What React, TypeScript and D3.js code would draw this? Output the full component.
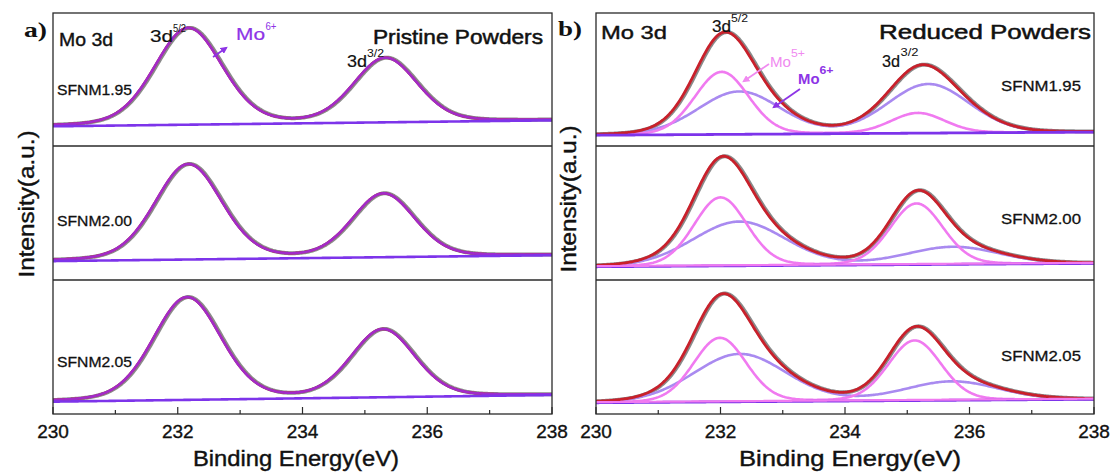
import React from "react";
import * as d3 from "d3";

// ---------- data ----------
const ENERGY_DOMAIN: [number, number] = [230, 238];
const MAJOR_TICKS = [230, 232, 234, 236, 238];
const MINOR_TICKS = [231, 233, 235, 237];
const SAMPLES = ["SFNM1.95", "SFNM2.00", "SFNM2.05"];

// linear background (fraction of sub-panel height) at 230 eV and 238 eV
const PRISTINE_BG = [
  [0.148, 0.193],
  [0.141, 0.185],
  [0.092, 0.142],
];
// fitted peaks: [centre eV, height, FWHM eV]
const PRISTINE_MO6 = [
  [[232.17, 0.725, 1.28], [235.33, 0.481, 1.2]],
  [[232.17, 0.71, 1.26], [235.3, 0.472, 1.18]],
  [[232.15, 0.764, 1.28], [235.29, 0.504, 1.2]],
];
const REDUCED_BG = [
  [0.081, 0.105],
  [0.099, 0.124],
  [0.084, 0.11],
];
const REDUCED_MO5 = [
  [[232.02, 0.47, 1.02], [235.17, 0.151, 1.02]],
  [[232.0, 0.51, 1.0], [235.15, 0.455, 1.0]],
  [[231.99, 0.477, 1.0], [235.12, 0.447, 1.0]],
];
const REDUCED_MO6 = [
  [[232.3, 0.32, 1.55], [235.34, 0.367, 1.55]],
  [[232.3, 0.329, 1.75], [235.74, 0.129, 1.75]],
  [[232.31, 0.356, 1.75], [235.72, 0.139, 1.75]],
];
const PRISTINE_ETA = 0.18; // Lorentzian fraction of the pseudo-Voigt fit
const REDUCED_ETA = 0.1;

// ---------- layout ----------
const PANEL_A: [number, number] = [53, 552];
const PANEL_B: [number, number] = [596, 1094];
const ROWS: [number, number][] = [
  [13, 146],
  [146, 280],
  [280, 414],
];
const FONT = "'Liberation Sans', Arial, sans-serif";
const SERIF = "'Liberation Serif', 'Times New Roman', serif";

const C = {
  frame: "#2a2a2a",
  raw: "#8a8a8a",
  red: "#c9202b",
  pristineComp: "#a22bc8",
  bgViolet: "#7d34ea",
  pink: "#f07af0",
  lilac: "#a98af0",
  mo6Label: "#8d34e6",
  mo5Label: "#f08af0",
};

type Peak = number[];
function pv(e: number, p: Peak, eta: number) {
  const [c, h, w] = p;
  const d = (e - c) / w;
  return h * ((1 - eta) * Math.exp(-4 * Math.LN2 * d * d) + eta / (1 + 4 * d * d));
}
const grid = d3.range(ENERGY_DOMAIN[0], ENERGY_DOMAIN[1] + 1e-9, 0.02);

function T(props: any) {
  const { x, y, size, len, weight, fill, anchor, family, children, transform, sw } = props;
  const col = fill || "#111";
  return (
    <text
      x={x}
      y={y}
      transform={transform}
      fontSize={size}
      fontFamily={family || FONT}
      fontWeight={weight || "normal"}
      fill={col}
      stroke={sw ? col : undefined}
      strokeWidth={sw || undefined}
      textAnchor={anchor || "start"}
      textLength={len}
      lengthAdjust={len ? "spacingAndGlyphs" : undefined}
    >
      {children}
    </text>
  );
}

function XAxis({ xs, y }: { xs: d3.ScaleLinear<number, number>; y: number }) {
  return (
    <g>
      {MAJOR_TICKS.map((t) => (
        <g key={"M" + t}>
          <line x1={xs(t)} x2={xs(t)} y1={y} y2={y - 7} stroke={C.frame} strokeWidth={1.2} />
          <T x={xs(t)} y={438} size={19} anchor="middle" sw={0.35}>
            {t}
          </T>
        </g>
      ))}
      {MINOR_TICKS.map((t) => (
        <line key={"m" + t} x1={xs(t)} x2={xs(t)} y1={y} y2={y - 4} stroke={C.frame} strokeWidth={1.2} />
      ))}
    </g>
  );
}

function SubPanel(props: {
  id: string;
  xs: d3.ScaleLinear<number, number>;
  row: [number, number];
  bg: number[];
  comps: { peaks: Peak[]; color: string; width: number }[];
  eta: number;
  reduced: boolean;
  idx: number;
}) {
  const { id, xs, row, bg, comps, eta, reduced, idx } = props;
  const ys = d3.scaleLinear().domain([0, 1]).range([row[1], row[0]]);
  const bgf = (e: number) => bg[0] + ((bg[1] - bg[0]) * (e - ENERGY_DOMAIN[0])) / (ENERGY_DOMAIN[1] - ENERGY_DOMAIN[0]);
  const compf = (peaks: Peak[]) => (e: number) => bgf(e) + d3.sum(peaks, (p) => pv(e, p, eta));
  const env = (e: number) => bgf(e) + d3.sum(comps, (c) => d3.sum(c.peaks, (p) => pv(e, p, eta)));
  const path = (f: (e: number) => number, shift = 0) =>
    d3
      .line<number>()
      .x((e) => xs(e + shift))
      .y((e) => ys(f(e)))(grid) || "";
  const [x0, x1] = xs.range();
  return (
    <g>
      <defs>
        <clipPath id={id}>
          <rect x={x0} y={row[0]} width={x1 - x0} height={row[1] - row[0]} />
        </clipPath>
      </defs>
      <g clipPath={`url(#${id})`} fill="none" strokeLinejoin="round" strokeLinecap="round">
        <path d={path(env, 0.02)} stroke={C.raw} strokeWidth={4} />
        {reduced ? (
          <>
            {comps.map((c, i) => (
              <path key={i} d={path(compf(c.peaks))} stroke={c.color} strokeWidth={c.width} />
            ))}
            <path d={path(env)} stroke={C.red} strokeWidth={2.8} />
            <path d={path(bgf)} stroke={C.bgViolet} strokeWidth={2.8} />
            {idx > 0 && <path d={path(bgf)} stroke={C.pink} strokeWidth={2.2} transform="translate(0,-0.6)" />}
          </>
        ) : (
          <>
            <path d={path(env)} stroke={C.red} strokeWidth={2.4} />
            {comps.map((c, i) => (
              <path key={i} d={path(compf(c.peaks))} stroke={c.color} strokeWidth={c.width} />
            ))}
            <path d={path(bgf)} stroke={C.bgViolet} strokeWidth={2.6} />
          </>
        )}
      </g>
    </g>
  );
}

function Frame({ xr }: { xr: [number, number] }) {
  return (
    <g fill="none" stroke={C.frame} strokeWidth={1.3}>
      <rect x={xr[0]} y={ROWS[0][0]} width={xr[1] - xr[0]} height={ROWS[2][1] - ROWS[0][0]} />
      <line x1={xr[0]} x2={xr[1]} y1={ROWS[1][0]} y2={ROWS[1][0]} />
      <line x1={xr[0]} x2={xr[1]} y1={ROWS[2][0]} y2={ROWS[2][0]} />
    </g>
  );
}

export default function App() {
  const xa = d3.scaleLinear().domain(ENERGY_DOMAIN).range(PANEL_A);
  const xb = d3.scaleLinear().domain(ENERGY_DOMAIN).range(PANEL_B);
  const leftLabelY = [95, 226, 367];
  const rightLabelY = [91, 224, 361];

  return (
    <svg
      width={1115}
      height={473}
      style={{ position: "absolute", left: 0, top: 0, background: "#fff", display: "block" }}
    >
      <defs>
        <marker id="ah-violet" viewBox="0 0 10 10" refX="7" refY="5" markerWidth="4" markerHeight="4" orient="auto">
          <path d="M0,0L10,5L0,10z" fill={C.mo6Label} />
        </marker>
        <marker id="ah-pink" viewBox="0 0 10 10" refX="7" refY="5" markerWidth="4" markerHeight="4" orient="auto">
          <path d="M0,0L10,5L0,10z" fill={C.mo5Label} />
        </marker>
      </defs>
      <rect x={0} y={0} width={1115} height={473} fill="#fff" />

      {/* ---------- panel a ---------- */}
      {ROWS.map((row, i) => (
        <SubPanel
          key={"a" + i}
          id={"clipA" + i}
          xs={xa}
          row={row}
          bg={PRISTINE_BG[i]}
          comps={[{ peaks: PRISTINE_MO6[i], color: C.pristineComp, width: 2.6 }]}
          eta={PRISTINE_ETA}
          reduced={false}
          idx={i}
        />
      ))}
      <Frame xr={PANEL_A} />
      <XAxis xs={xa} y={ROWS[2][1]} />

      {/* ---------- panel b ---------- */}
      {ROWS.map((row, i) => (
        <SubPanel
          key={"b" + i}
          id={"clipB" + i}
          xs={xb}
          row={row}
          bg={REDUCED_BG[i]}
          comps={[
            { peaks: REDUCED_MO6[i], color: C.lilac, width: 2.6 },
            { peaks: REDUCED_MO5[i], color: C.pink, width: 2.6 },
          ]}
          eta={REDUCED_ETA}
          reduced={true}
          idx={i}
        />
      ))}
      <Frame xr={PANEL_B} />
      <XAxis xs={xb} y={ROWS[2][1]} />

      {/* ---------- axis titles ---------- */}
      <T x={296} y={466} size={22} len={206} anchor="middle" sw={0.4}>
        Binding Energy(eV)
      </T>
      <T x={850} y={466} size={22} len={222} anchor="middle" sw={0.4}>
        Binding Energy(eV)
      </T>
      <T transform="translate(34,204) rotate(-90)" x={0} y={0} size={22} len={147} anchor="middle" sw={0.4}>
        Intensity(a.u.)
      </T>
      <T transform="translate(576,199) rotate(-90)" x={0} y={0} size={22} len={147} anchor="middle" sw={0.4}>
        Intensity(a.u.)
      </T>

      {/* ---------- panel a annotations ---------- */}
      <T x={24} y={37} size={21} len={23} weight="bold" family={SERIF}>
        a)
      </T>
      <T x={59} y={46} size={19} len={54} sw={0.4}>
        Mo 3d
      </T>
      <T x={543} y={44} size={20} len={170} anchor="end" sw={0.5}>
        Pristine Powders
      </T>
      <T x={150} y={42} size={16} len={23} sw={0.2}>
        3d
      </T>
      <T x={173} y={32} size={10.5} len={13}>
        5/2
      </T>
      <T x={347} y={67} size={16} len={20} sw={0.2}>
        3d
      </T>
      <T x={367} y={57} size={10.5} len={17}>
        3/2
      </T>
      <T x={236} y={40} size={16} len={29} fill={C.mo6Label} sw={0.2}>
        Mo
      </T>
      <T x={265.5} y={30} size={10.5} len={11} fill={C.mo6Label}>
        6+
      </T>
      <line x1={213} y1={57} x2={226} y2={48} stroke={C.mo6Label} strokeWidth={1.8} markerEnd="url(#ah-violet)" />
      {SAMPLES.map((s, i) => (
        <T key={"la" + s} x={57} y={leftLabelY[i]} size={15.5} len={75} sw={0.3}>
          {s}
        </T>
      ))}

      {/* ---------- panel b annotations ---------- */}
      <T x={558} y={36} size={21} len={24} weight="bold" family={SERIF}>
        b)
      </T>
      <T x={601} y={38.5} size={19} len={66} sw={0.4}>
        Mo 3d
      </T>
      <T x={1091} y={38.5} size={20} len={212} anchor="end" sw={0.5}>
        Reduced Powders
      </T>
      <T x={712} y={32} size={16} len={19} sw={0.2}>
        3d
      </T>
      <T x={731} y={22} size={10.5} len={17}>
        5/2
      </T>
      <T x={882} y={66.5} size={16} len={18} sw={0.2}>
        3d
      </T>
      <T x={900.5} y={56} size={10.5} len={18}>
        3/2
      </T>
      <T x={770} y={67} size={15} len={21} fill={C.mo5Label}>
        Mo
      </T>
      <T x={791} y={57} size={10} len={14} fill={C.mo5Label}>
        5+
      </T>
      <line x1={769} y1={64} x2={744} y2={81} stroke={C.mo5Label} strokeWidth={1.8} markerEnd="url(#ah-pink)" />
      <T x={798} y={84} size={15} len={21.5} weight="bold" fill={C.mo6Label}>
        Mo
      </T>
      <T x={819.5} y={74} size={10} len={14} weight="bold" fill={C.mo6Label}>
        6+
      </T>
      <line x1={800} y1={89} x2={774} y2={107} stroke={C.mo6Label} strokeWidth={1.8} markerEnd="url(#ah-violet)" />
      {SAMPLES.map((s, i) => (
        <T key={"lb" + s} x={1001} y={rightLabelY[i]} size={15.5} len={80} sw={0.3}>
          {s}
        </T>
      ))}
    </svg>
  );
}
